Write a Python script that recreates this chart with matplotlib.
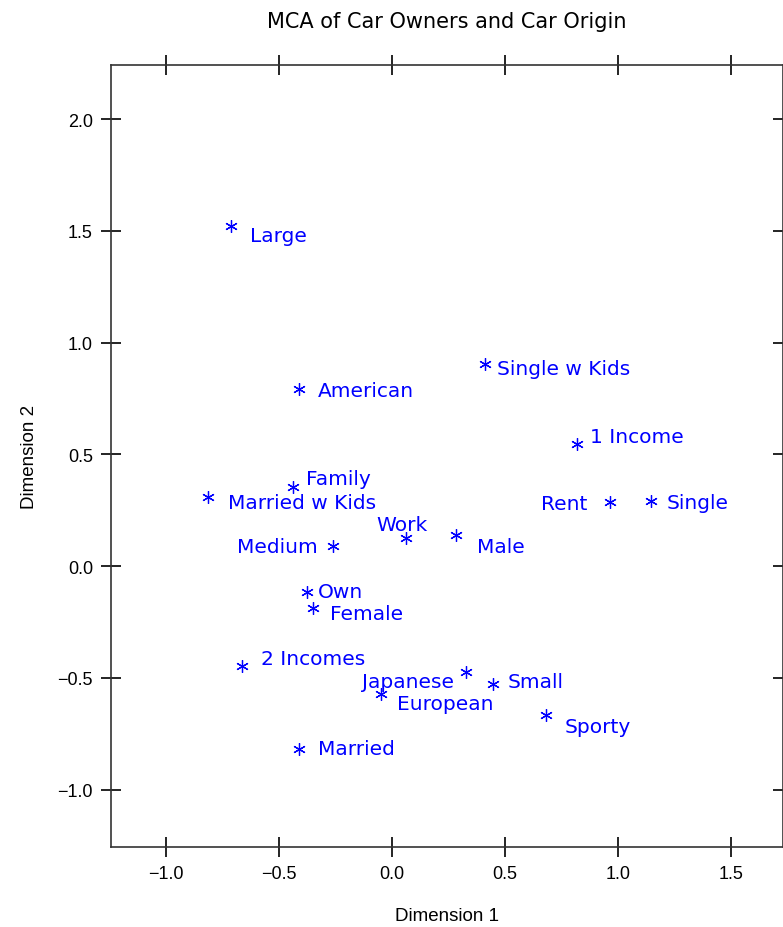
import matplotlib
matplotlib.use("Agg")
import matplotlib.pyplot as plt

plt.rcParams['font.family'] = ['Liberation Sans', 'DejaVu Sans']

# coordonnees MCA
labels = ["Large", "American", "Single w Kids", "1 Income", "Rent", "Single",
          "Family", "Married w Kids", "Work", "Male", "Medium", "Own", "Female",
          "2 Incomes", "Japanese", "Small", "European", "Sporty", "Married"]
dim1 = [-0.712, -0.411, 0.411, 0.819, 0.965, 1.146,
        -0.438, -0.814, 0.062, 0.283, -0.261, -0.376, -0.350,
        -0.664, 0.327, 0.447, -0.049, 0.681, -0.411]
dim2 = [1.521, 0.792, 0.904, 0.546, 0.286, 0.291,
        0.354, 0.309, 0.125, 0.139, 0.089, -0.116, -0.188,
        -0.447, -0.474, -0.528, -0.573, -0.667, -0.819]

xticks = [-1.0, -0.5, 0.0, 0.5, 1.0, 1.5]
yticks = [-1.0, -0.5, 0.0, 0.5, 1.0, 1.5, 2.0]

# placement des etiquettes: (dx px, dy px, alignement)
label_pos = {
    "Large": (19, -9, "left"), "American": (19, -1, "left"),
    "Single w Kids": (12, -4, "left"), "1 Income": (13, 8, "left"),
    "Rent": (-22, -1, "right"), "Single": (16, -1, "left"),
    "Family": (13, 8, "left"), "Married w Kids": (20, -5, "left"),
    "Work": (-4, 14, "center"), "Male": (21, -11, "left"),
    "Medium": (-15, 0, "right"), "Own": (11, 0, "left"),
    "Female": (17, -5, "left"), "2 Incomes": (19, 7, "left"),
    "Japanese": (-12, -9, "right"), "Small": (15, 3, "left"),
    "European": (16, -9, "left"), "Sporty": (19, -11, "left"),
    "Married": (19, 1, "left"),
}

blue = "#0000ff"
px = 0.72  # 1 pixel en points a dpi=100

fig = plt.figure(figsize=(7.83, 9.28), dpi=100)
ax = fig.add_axes([111 / 783, 1 - 848 / 928, 1 - 111 / 783 - 0.0005, (848 - 66) / 928])

ax.plot(dim1, dim2, linestyle="none", marker=(6, 2, 0), markersize=9,
        markeredgewidth=0.9, color=blue)
for lab, x, y in zip(labels, dim1, dim2):
    dx, dy, ha = label_pos[lab]
    ax.annotate(lab, (x, y), xytext=(dx * px, dy * px), textcoords="offset points",
                ha=ha, va="center", color=blue, fontsize=14.5,
                family=["DejaVu Sans"])

ax.set_xlim(-1.243, 1.730)
ax.set_ylim(-1.257, 2.242)
ax.set_xticks(xticks)
ax.set_yticks(yticks)
ax.set_xticklabels([f"{t:.1f}".replace("-", "\u2212") for t in xticks])
ax.set_yticklabels([f"{t:.1f}".replace("-", "\u2212") for t in yticks])
ax.tick_params(direction="inout", length=14, width=1.2, labelsize=13,
               top=True, right=True, pad=6)
for s in ax.spines.values():
    s.set_linewidth(1.2)
    s.set_color("#333333")

ax.set_xlabel("Dimension 1", fontsize=13.5, labelpad=18)
ax.set_ylabel("Dimension 2", fontsize=13.5, labelpad=14)
fig.text(447 / 783, 1 - 22 / 928, "MCA of Car Owners and Car Origin",
         ha="center", va="center", fontsize=15, family=["DejaVu Sans"])

fig.savefig("out.png", dpi=100)
